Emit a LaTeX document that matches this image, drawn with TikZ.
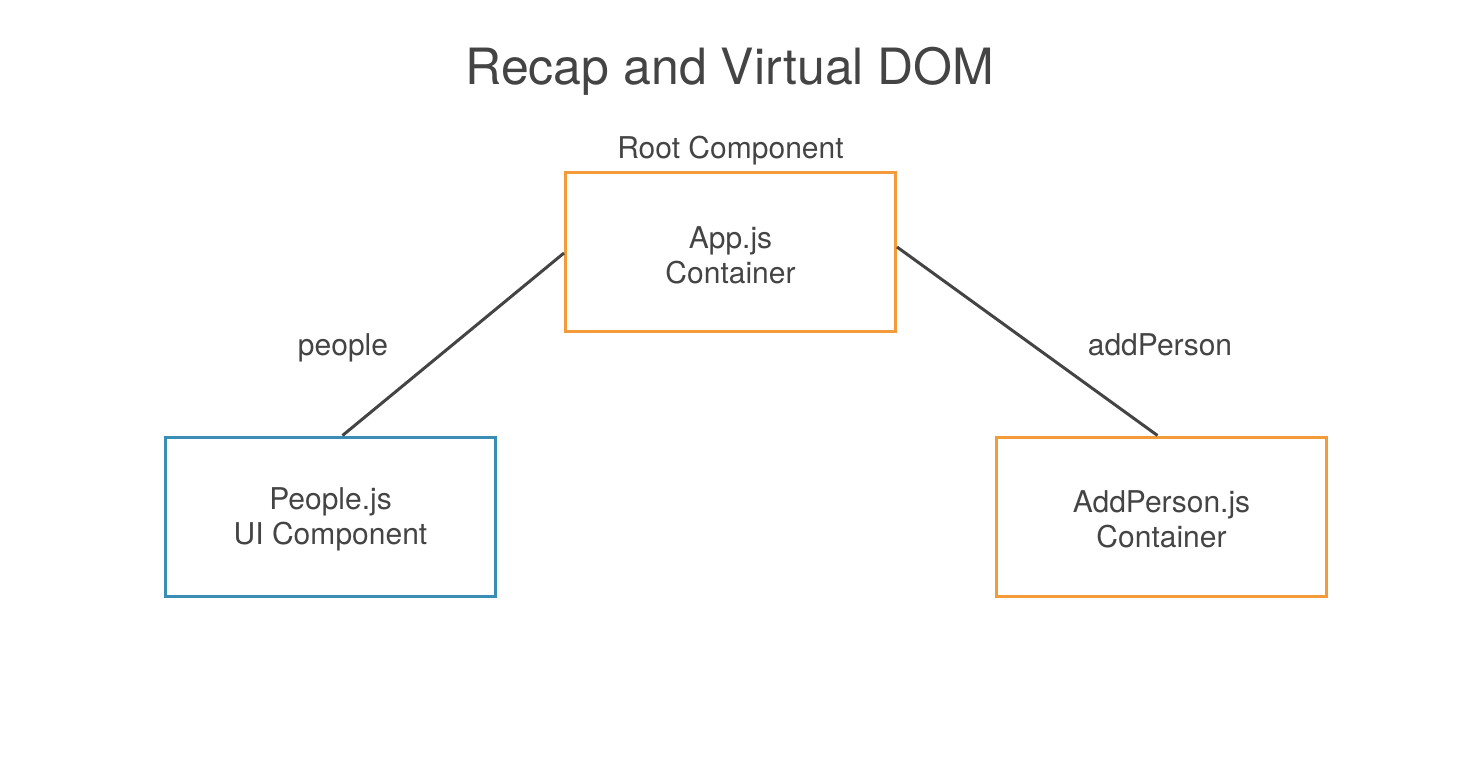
\documentclass[tikz,border=0pt]{standalone}
\usepackage{fontspec}
\setmainfont{TeX Gyre Heros}
\usepackage{tikz}
\usetikzlibrary{positioning}
\definecolor{txtgray}{HTML}{444444}
\definecolor{boxorange}{HTML}{F29B38}
\definecolor{boxblue}{HTML}{3A8DB4}
\newcommand{\toppad}{\rule{0pt}{28pt}}
\tikzset{
  comp/.style={draw,line width=3pt,minimum width=330pt,minimum height=159pt,inner sep=0pt,
    align=center,text=txtgray,font=\fontsize{30}{35}\selectfont},
  lbl/.style={text=txtgray,font=\fontsize{30}{35}\selectfont,inner sep=0pt},
  link/.style={draw=txtgray,line width=3pt}
}
\begin{document}
\begin{tikzpicture}[x=1pt,y=-1pt]
      \useasboundingbox (0,0) rectangle (1484,772);
      \node[lbl,font=\fontsize{50}{60}\selectfont] (title) at (730,71) {Recap and Virtual DOM};
      \node[lbl] (root) at (730.5,151) {Root Component};
      \node[comp,draw=boxorange] (app) at (730.5,252) {\toppad App.js\\Container};
      \node[comp,draw=boxblue] (people) at (330.5,516.5) {\toppad People.js\\UI Component};
      \node[comp,draw=boxorange] (addperson) at (1161.5,516.5) {\toppad AddPerson.js\\Container};
      \draw[link] ([yshift=-1pt]app.west) -- ([xshift=12pt]people.north);
      \draw[link] ([yshift=5pt]app.east) -- ([xshift=-4pt]addperson.north);
      \node[lbl] (peoplelbl) at (343,348) {people};
      \node[lbl] (addlbl) at (1160,345) {addPerson};
    \end{tikzpicture}
\end{document}
